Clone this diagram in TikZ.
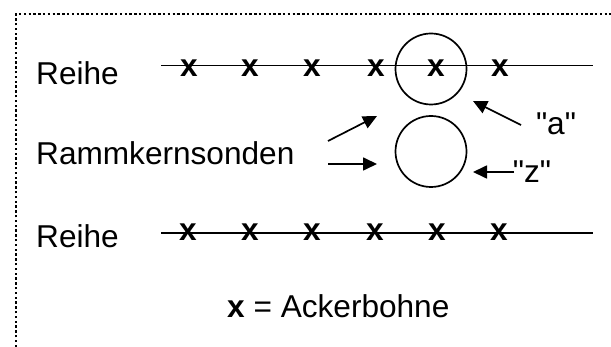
\documentclass[tikz,border=0pt]{standalone}
\usepackage{fontspec}
\setmainfont{Liberation Sans}[Ligatures=TeXOff]
\usetikzlibrary{arrows.meta}
\begin{document}
\begin{tikzpicture}[x=1pt,y=-1pt,
  txt/.style={inner sep=0pt,anchor=base west,font=\fontsize{31.6}{36}\selectfont},
  beanmark/.style={inner sep=0pt,anchor=base,font=\fontsize{31.6}{36}\selectfont\bfseries},
  rowline/.style={line width=1.7pt},
  probe/.style={circle,draw,line width=1.7pt,minimum size=71pt,inner sep=0pt},
  arr/.style={line width=1.7pt,-{Triangle[length=14pt,width=13pt]}},
  frame/.style={line width=2.6pt,dash pattern=on 2.4pt off 2.4pt}]
\useasboundingbox (0,0) rectangle (611,347);
% frame
\coordinate (f1) at (16,347);
\coordinate (f2) at (16,14);
\coordinate (f3) at (611,14);
\draw[frame] (f1) -- (f2) -- (f3);
% labels
\node[txt] (reihe1) at (36,85) {Reihe};
\node[txt] (ramm) at (36,165) {Rammkernsonden};
\node[txt] (reihe2) at (36,248) {Reihe};
% row lines
\coordinate (r1a) at (161,65.5);
\coordinate (r1b) at (593,65.5);
\coordinate (r2a) at (161,233);
\coordinate (r2b) at (593,233);
\draw[rowline] (r1a) -- (r1b);
\draw[rowline] (r2a) -- (r2b);
% marks row 1
\foreach \xx [count=\i] in {189,250,312,376,436,500}
  \node[beanmark] (m1\i) at (\xx,77) {x};
% marks row 2
\foreach \xx [count=\i] in {188,250,312,375,437,499}
  \node[beanmark] (m2\i) at (\xx,241) {x};
% probes
\node[probe] (c1) at (431,69) {};
\node[probe] (c2) at (431,151.5) {};
% labels a, z
\node[txt,anchor=base] (la) at (556,135) {"a"};
\node[txt,anchor=base] (lz) at (532,183) {"z"};
% arrows
\coordinate (atail) at (521,125);
\coordinate (atip) at (473,101);
\draw[arr] (atail) -- (atip);
\coordinate (ztail) at (514,172);
\coordinate (ztip) at (473,172);
\draw[arr] (ztail) -- (ztip);
\coordinate (u1) at (328,141);
\coordinate (u2) at (377,116);
\draw[arr] (u1) -- (u2);
\coordinate (l1) at (328,164);
\coordinate (l2) at (377,164);
\draw[arr] (l1) -- (l2);
% legend
\node[txt] (legend) at (227,318) {\textbf{x} = Ackerbohne};
\end{tikzpicture}
\end{document}
